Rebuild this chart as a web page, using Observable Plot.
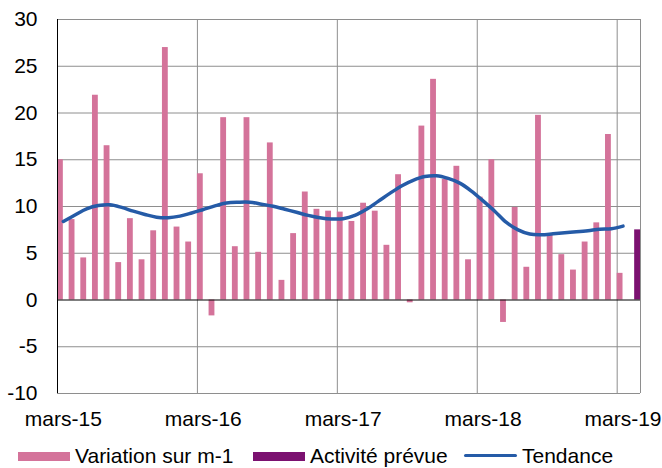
<!DOCTYPE html>
<html>
<head>
<meta charset="utf-8">
<script src="https://cdn.jsdelivr.net/npm/d3@7"></script>
<script src="https://cdn.jsdelivr.net/npm/@observablehq/plot@0.6"></script>
<style>
  html, body { margin: 0; padding: 0; background: #fff; overflow: hidden; }
  body { font-family: "Liberation Sans", Arial, sans-serif; color: #000; width: 662px; height: 468px; }
  #legend { position: relative; height: 28px; font-size: 21px; }
  .sw { position: absolute; top: 12px; width: 52px; height: 9px; }
  .ln { position: absolute; top: 13.5px; width: 53px; height: 3.5px; border-radius: 2px; }
  .lbl { position: absolute; top: 3.5px; line-height: normal; white-space: nowrap; }
</style>
</head>
<body>
<div id="chart"></div>
<div id="legend"></div>
<script>
// ---- Data ----
const monthNames = ["janv.", "févr.", "mars", "avr.", "mai", "juin", "juil.", "août", "sept.", "oct.", "nov.", "déc."];
const firstMonth = "2015-03-01";
const lastMonth = "2019-04-01";

// Variation sur m-1 : mars-15 .. mars-19
const variation = [
  15.0, 8.6, 4.5, 21.9, 16.5, 4.0, 8.7, 4.3, 7.4, 27.0, 7.8, 6.2,
  13.5, -1.7, 19.5, 5.7, 19.5, 5.1, 16.8, 2.1, 7.1, 11.55, 9.7, 9.5,
  9.4, 8.4, 10.35, 9.5, 5.85, 13.4, -0.3, 18.6, 23.6, 12.9, 14.3, 4.3,
  11.0, 15.0, -2.4, 9.9, 3.5, 19.75, 7.0, 4.85, 3.2, 6.2, 8.25, 17.7,
  2.85
];
// Activité prévue : avril-19
const prevueMonth = "avr.-19";
const prevue = [7.5];
// Tendance : mars-15 .. mars-19
const tendance = [
  8.4, 9.1, 9.75, 10.1, 10.18, 9.9, 9.5, 9.15, 8.86, 8.8, 8.97, 9.3,
  9.68, 10.07, 10.38, 10.46, 10.46, 10.25, 10.02, 9.7, 9.38, 9.05, 8.8, 8.66,
  8.7, 9.05, 9.7, 10.55, 11.4, 12.2, 12.8, 13.2, 13.28, 13.0, 12.5, 11.65,
  10.6, 9.5, 8.3, 7.5, 7.05, 6.98, 7.08, 7.19, 7.29, 7.41, 7.57, 7.62,
  7.9
];
const xTickLabels = ["mars-15", "mars-16", "mars-17", "mars-18", "mars-19"];
const yTicks = [-10, -5, 0, 5, 10, 15, 20, 25, 30];

const colPink = "#d4739a";
const colPurple = "#7b1170";
const colBlue = "#255ba7";
const colGrid = "#8e8e8e";

// ---- Build tables ----
const months = d3.utcMonth.range(new Date(firstMonth), d3.utcMonth.offset(new Date(lastMonth), 1))
  .map(d => monthNames[d.getUTCMonth()] + "-" + String(d.getUTCFullYear()).slice(2));
const varData = variation.map((v, i) => ({i, v}));
const prevData = prevue.map(v => ({i: months.indexOf(prevueMonth), v}));
const trendData = tendance.map((v, i) => ({i, v}));
const tickIdx = xTickLabels.map(l => months.indexOf(l));
const n = months.length;

const chart = Plot.plot({
  width: 662,
  height: 440,
  marginLeft: 57,
  marginRight: 22,
  marginTop: 19,
  marginBottom: 47,
  style: {fontFamily: "'Liberation Sans', Arial, sans-serif", fontSize: "21px", color: "#000", background: "#fff"},
  x: {type: "linear", domain: [0, n], label: null},
  y: {domain: [-10, 30], label: null},
  marks: [
    Plot.ruleY(yTicks.filter(t => t !== 0), {stroke: colGrid, strokeWidth: 1}),
    Plot.ruleX(tickIdx.filter(t => t > 0), {stroke: colGrid, strokeWidth: 1}),
    Plot.ruleX([n], {stroke: colGrid, strokeWidth: 1}),
    Plot.rect(varData, {x1: "i", x2: d => d.i + 0.5, y1: 0, y2: "v", fill: colPink}),
    Plot.rect(prevData, {x1: d => d.i + 0.5, x2: d => d.i + 1, y1: 0, y2: "v", fill: colPurple}),
    Plot.ruleY([0], {stroke: "#000", strokeWidth: 1}),
    Plot.ruleX([0], {stroke: "#000", strokeWidth: 1}),
    Plot.line(trendData, {x: d => d.i + 0.5, y: "v", stroke: colBlue, strokeWidth: 3.5, curve: "catmull-rom"}),
    Plot.axisY({ticks: yTicks, tickSize: 0, tickPadding: 20, fontSize: 21, fill: "#000", label: null,
      tickFormat: v => String(v)}),
    Plot.axisX({ticks: tickIdx.map(i => i + 0.5), tickSize: 0, tickPadding: 18, fontSize: 21, fill: "#000", label: null,
      tickFormat: v => months[Math.floor(v)]})
  ]
});
document.getElementById("chart").appendChild(chart);

// ---- Legend ----
const legendItems = [
  {label: "Variation sur m-1", color: colPink, kind: "sw", left: 18, textLeft: 75},
  {label: "Activité prévue", color: colPurple, kind: "sw", left: 253, textLeft: 310},
  {label: "Tendance", color: colBlue, kind: "ln", left: 464, textLeft: 522}
];
const legend = document.getElementById("legend");
for (const it of legendItems) {
  const sw = document.createElement("span");
  sw.className = it.kind;
  sw.style.background = it.color;
  sw.style.left = it.left + "px";
  const lbl = document.createElement("span");
  lbl.className = "lbl";
  lbl.style.left = it.textLeft + "px";
  lbl.textContent = it.label;
  legend.appendChild(sw);
  legend.appendChild(lbl);
}
</script>
</body>
</html>
